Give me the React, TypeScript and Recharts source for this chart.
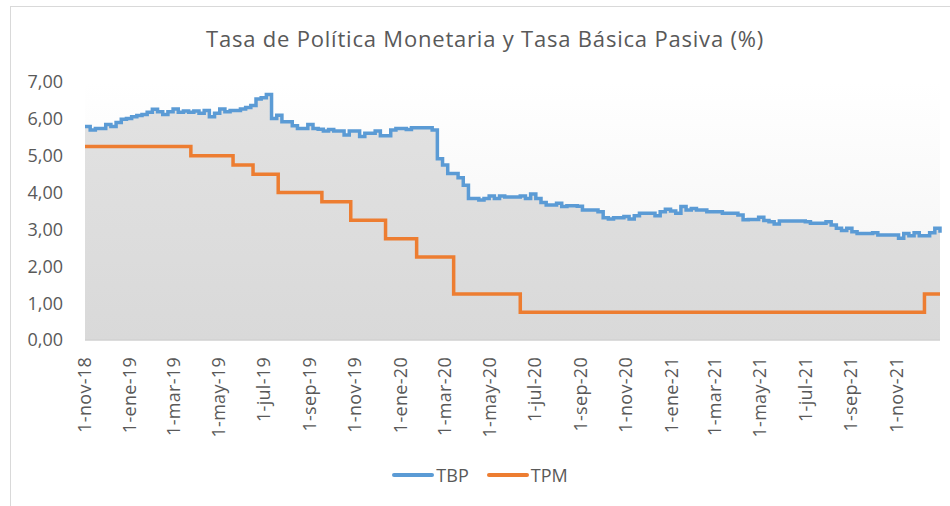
import React from 'react';
import { ComposedChart, Area, Line, XAxis, YAxis, CartesianGrid } from 'recharts';

// TBP: weekly readings starting 1-nov-18
const tbpStart = '2018-11-01';
const tbpValues = [
  5.79, 5.70, 5.74, 5.74, 5.85, 5.79, 5.90, 5.99, 6.01, 6.06,
  6.09, 6.12, 6.18, 6.26, 6.19, 6.12, 6.19, 6.27, 6.18, 6.21,
  6.18, 6.21, 6.15, 6.23, 6.06, 6.15, 6.27, 6.19, 6.23, 6.23,
  6.27, 6.31, 6.36, 6.54, 6.57, 6.66, 6.01, 6.10, 5.92, 5.92,
  5.81, 5.74, 5.74, 5.85, 5.74, 5.72, 5.67, 5.71, 5.67, 5.67,
  5.56, 5.67, 5.67, 5.52, 5.61, 5.61, 5.67, 5.54, 5.54, 5.70,
  5.74, 5.74, 5.71, 5.76, 5.76, 5.76, 5.76, 5.70, 4.92, 4.75,
  4.52, 4.52, 4.40, 4.20, 3.84, 3.84, 3.80, 3.84, 3.91, 3.84,
  3.91, 3.88, 3.88, 3.88, 3.91, 3.84, 3.96, 3.84, 3.73, 3.66,
  3.66, 3.71, 3.62, 3.64, 3.64, 3.63, 3.53, 3.53, 3.53, 3.48,
  3.32, 3.28, 3.32, 3.32, 3.35, 3.28, 3.37, 3.44, 3.44, 3.44,
  3.37, 3.48, 3.55, 3.50, 3.44, 3.62, 3.53, 3.57, 3.53, 3.53,
  3.48, 3.48, 3.48, 3.44, 3.44, 3.44, 3.39, 3.26, 3.27, 3.27,
  3.33, 3.24, 3.21, 3.15, 3.23, 3.23, 3.23, 3.23, 3.23, 3.21,
  3.17, 3.17, 3.17, 3.21, 3.12, 3.03, 2.97, 3.03, 2.94, 2.89,
  2.89, 2.89, 2.91, 2.85, 2.85, 2.85, 2.85, 2.76, 2.89, 2.83,
  2.91, 2.83, 2.83, 2.91, 3.03, 2.91,
];

// TPM: dates where the rate changed
const tpmDates = [
  '2018-11-01', '2019-03-24', '2019-05-20', '2019-06-16', '2019-07-20', '2019-09-17',
  '2019-10-26', '2019-12-12', '2020-01-23', '2020-03-13', '2020-06-11', '2021-12-09', '2021-12-30',
];
const tpmValues = [5.25, 5.0, 4.75, 4.5, 4.0, 3.75, 3.25, 2.75, 2.25, 1.25, 0.75, 1.25, 1.25];

const xTickDates = [
  '2018-11-01', '2019-01-01', '2019-03-01', '2019-05-01', '2019-07-01', '2019-09-01',
  '2019-11-01', '2020-01-01', '2020-03-01', '2020-05-01', '2020-07-01', '2020-09-01',
  '2020-11-01', '2021-01-01', '2021-03-01', '2021-05-01', '2021-07-01', '2021-09-01', '2021-11-01',
];
const yTicks = [0, 1, 2, 3, 4, 5, 6, 7];
const monthNames = ['ene', 'feb', 'mar', 'abr', 'may', 'jun', 'jul', 'ago', 'sep', 'oct', 'nov', 'dic'];

const DAY = 86400000;
const toMs = (s: string) => Date.parse(s + 'T00:00:00Z');

const tbpRows = tbpValues.map((v, i) => ({ t: toMs(tbpStart) + i * 7 * DAY, v }));
const tpmRows = tpmDates.map((d, i) => ({ t: toMs(d), v: tpmValues[i] }));

// both series are step functions: merge on every date where either changes
const allTimes = Array.from(new Set([...tbpRows.map((r) => r.t), ...tpmRows.map((r) => r.t)])).sort((a, b) => a - b);
const stepAt = (rows: { t: number; v: number }[], t: number) => {
  let val = rows[0].v;
  for (const r of rows) if (r.t <= t) val = r.v;
  return val;
};
const data = allTimes.map((t) => ({ t, TBP: stepAt(tbpRows, t), TPM: stepAt(tpmRows, t) }));

const FONT = "'Open Sans', sans-serif";
const TXT = '#595959';

const fmtDate = (ms: number) => {
  const d = new Date(ms);
  return `${d.getUTCDate()}-${monthNames[d.getUTCMonth()]}-${String(d.getUTCFullYear()).slice(2)}`;
};

const DateTick = (props: any) => {
  const { x, y, payload } = props;
  return (
    <text
      x={x}
      y={y}
      transform={`rotate(-90, ${x}, ${y})`}
      textAnchor="end"
      dy="0.35em"
      fill={TXT}
      fontSize={18}
      letterSpacing={0.3}
      fontFamily={FONT}
    >
      {fmtDate(payload.value)}
    </text>
  );
};

const series = [
  { name: 'TBP', color: '#5b9bd5' },
  { name: 'TPM', color: '#ed7d31' },
];

export default function App() {
  const start = toMs(tbpStart);
  const end = tbpRows[tbpRows.length - 1].t;
  return (
    <div style={{ position: 'absolute', left: 0, top: 0, width: 950, height: 506, background: '#fff', overflow: 'hidden' }}>
      <div
        style={{
          position: 'absolute',
          left: 10,
          top: 6,
          width: 960,
          height: 520,
          border: '1px solid #d9d9d9',
          boxSizing: 'border-box',
        }}
      />
      <div
        style={{
          position: 'absolute',
          left: 10,
          width: 950,
          top: 23,
          textAlign: 'center',
          fontFamily: FONT,
          fontSize: 22,
          letterSpacing: 0.8,
          color: TXT,
        }}
      >
        Tasa de Política Monetaria y Tasa Básica Pasiva (%)
      </div>
      <div style={{ position: 'absolute', left: 0, top: 0 }}>
        <ComposedChart width={950} height={506} data={data} margin={{ top: 82, right: 10, bottom: 86, left: 0 }}>
          <defs>
            <linearGradient id="plotBg" x1="0" y1="0" x2="0" y2="1">
              <stop offset="0%" stopColor="#ffffff" />
              <stop offset="100%" stopColor="#f2f2f2" />
            </linearGradient>
            <linearGradient id="tbpFill" x1="0" y1="0" x2="0" y2="1">
              <stop offset="0%" stopColor="#e2e2e2" />
              <stop offset="100%" stopColor="#d9d9d9" />
            </linearGradient>
          </defs>
          <CartesianGrid horizontal={false} vertical={false} fill="url(#plotBg)" />
          <XAxis
            dataKey="t"
            type="number"
            domain={[start, end]}
            ticks={xTickDates.map(toMs)}
            tick={<DateTick />}
            tickLine={false}
            tickSize={0}
            tickMargin={17}
            height={80}
            interval={0}
            axisLine={{ stroke: '#d0d0d0', strokeWidth: 1.5 }}
          />
          <YAxis
            domain={[0, 7]}
            ticks={yTicks}
            tickFormatter={(v: number) => v.toFixed(2).replace('.', ',')}
            tick={{ fill: TXT, fontSize: 18, fontFamily: FONT }}
            tickLine={false}
            axisLine={false}
            tickSize={0}
            tickMargin={22}
            width={85}
          />
          <Area
            type="stepAfter"
            dataKey="TBP"
            stroke="#5b9bd5"
            strokeWidth={3.5}
            fill="url(#tbpFill)"
            fillOpacity={1}
            isAnimationActive={false}
            dot={false}
            activeDot={false}
          />
          <Line
            type="stepAfter"
            dataKey="TPM"
            stroke="#ed7d31"
            strokeWidth={3.5}
            dot={false}
            activeDot={false}
            isAnimationActive={false}
          />
        </ComposedChart>
      </div>
      <div
        style={{
          position: 'absolute',
          left: 10,
          width: 940,
          top: 463,
          display: 'flex',
          justifyContent: 'center',
          alignItems: 'center',
          fontFamily: FONT,
          fontSize: 18,
          color: TXT,
        }}
      >
        {series.map((s) => (
          <div key={s.name} style={{ display: 'flex', alignItems: 'center', margin: '0 9px' }}>
            <div style={{ width: 42, height: 4, borderRadius: 2, background: s.color, marginRight: 2 }} />
            <span>{s.name}</span>
          </div>
        ))}
      </div>
    </div>
  );
}
